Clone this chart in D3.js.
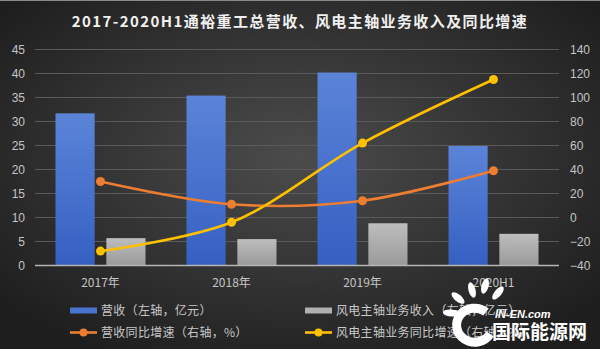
<!DOCTYPE html>
<html>
<head>
<meta charset="utf-8">
<script src="https://cdn.jsdelivr.net/npm/d3@7"></script>
<style>
  body { margin: 0; background: #333; }
  svg text { font-family: "Noto Sans CJK SC", "Noto Sans", sans-serif; }
</style>
</head>
<body>
<div id="chart"></div>
<script>
// Data
var years = ["2017年", "2018年", "2019年", "2020H1"];
var revenue = [31.7, 35.4, 40.2, 24.9];          // 营收, 左轴 亿元
var windRevenue = [5.7, 5.5, 8.8, 6.6];           // 风电主轴业务收入, 左轴 亿元
var revenueGrowth = [30, 11, 14, 39];             // 营收同比增速, 右轴 %
var windGrowth = [-28, -4, 62, 115];              // 风电主轴业务同比增速, 右轴 %
var leftTicks = [0, 5, 10, 15, 20, 25, 30, 35, 40, 45];
var rightTicks = [-40, -20, 0, 20, 40, 60, 80, 100, 120, 140];

var W = 600, H = 349;
var margin = {top: 49.5, right: 41, bottom: 83.5, left: 35};
var width = W - margin.left - margin.right;
var height = H - margin.top - margin.bottom;

var svg = d3.select("#chart").append("svg")
    .attr("width", W)
    .attr("height", H);

// Background
var defs = svg.append("defs");
var bg = defs.append("radialGradient").attr("id", "bg")
    .attr("cx", "50%").attr("cy", "45%").attr("r", "65%");
bg.append("stop").attr("offset", "0%").attr("stop-color", "#4c4c4c");
bg.append("stop").attr("offset", "100%").attr("stop-color", "#1e1e1e");

var blueGrad = defs.append("linearGradient").attr("id", "blueGrad")
    .attr("x1", 0).attr("y1", 0).attr("x2", 0).attr("y2", 1);
blueGrad.append("stop").attr("offset", "0%").attr("stop-color", "#5b84d8");
blueGrad.append("stop").attr("offset", "100%").attr("stop-color", "#3560c2");

var greyGrad = defs.append("linearGradient").attr("id", "greyGrad")
    .attr("x1", 0).attr("y1", 0).attr("x2", 0).attr("y2", 1);
greyGrad.append("stop").attr("offset", "0%").attr("stop-color", "#bdbdbd");
greyGrad.append("stop").attr("offset", "100%").attr("stop-color", "#9a9a9a");

svg.append("rect").attr("width", W).attr("height", H).attr("fill", "url(#bg)");
svg.append("line").attr("x1", 0).attr("x2", W).attr("y1", 0.5).attr("y2", 0.5)
    .attr("stroke", "#8a8a8a").attr("stroke-width", 1);

// Title
svg.append("text")
    .attr("x", W / 2)
    .attr("y", 27)
    .attr("text-anchor", "middle")
    .attr("fill", "#f0f0f0")
    .attr("font-size", 15)
    .attr("font-weight", "bold")
    .attr("letter-spacing", 1.4)
    .text("2017-2020H1通裕重工总营收、风电主轴业务收入及同比增速");

var g = svg.append("g")
    .attr("transform", "translate(" + margin.left + "," + margin.top + ")");

// Scales
var x = d3.scaleBand().domain(years).range([0, width]);
var xSub = d3.scaleBand().domain([0, 1]).range([0, 90]).paddingInner(0.23);
var yLeft = d3.scaleLinear().domain([0, 45]).range([height, 0]);
var yRight = d3.scaleLinear().domain([-40, 140]).range([height, 0]);

// Gridlines
g.append("g")
    .selectAll("line")
    .data(leftTicks.slice(1))
    .enter()
    .append("line")
    .attr("x1", 0).attr("x2", width)
    .attr("y1", function(d) { return yLeft(d); })
    .attr("y2", function(d) { return yLeft(d); })
    .attr("stroke", "#5a5a5a")
    .attr("stroke-width", 1);

// Bars
var groups = g.selectAll(".grp")
    .data(years)
    .enter()
    .append("g")
    .attr("transform", function(d) {
        return "translate(" + (x(d) + (x.bandwidth() - 90) / 2) + ",0)";
    });

groups.append("rect")
    .attr("x", xSub(0))
    .attr("width", xSub.bandwidth())
    .attr("y", function(d, i) { return yLeft(revenue[i]); })
    .attr("height", function(d, i) { return height - yLeft(revenue[i]); })
    .attr("fill", "url(#blueGrad)");

groups.append("rect")
    .attr("x", xSub(1))
    .attr("width", xSub.bandwidth())
    .attr("y", function(d, i) { return yLeft(windRevenue[i]); })
    .attr("height", function(d, i) { return height - yLeft(windRevenue[i]); })
    .attr("fill", "url(#greyGrad)");

// Baseline
g.append("line")
    .attr("x1", 0).attr("x2", width)
    .attr("y1", height).attr("y2", height)
    .attr("stroke", "#b5b5b5")
    .attr("stroke-width", 1.5);

// Axes
var axisLeft = g.append("g")
    .attr("transform", "translate(-10,0)")
    .call(d3.axisLeft(yLeft).tickValues(leftTicks).tickSize(0).tickPadding(0));
var axisRight = g.append("g")
    .attr("transform", "translate(" + (width + 11) + ",0)")
    .call(d3.axisRight(yRight).tickValues(rightTicks).tickSize(0).tickPadding(0));
var axisBottom = g.append("g")
    .attr("transform", "translate(0," + height + ")")
    .call(d3.axisBottom(x).tickSize(0).tickPadding(13));

[axisLeft, axisRight, axisBottom].forEach(function(a) {
    a.select(".domain").remove();
    a.selectAll("text")
        .attr("fill", "#c4c4c4")
        .attr("font-size", 12)
        .style("font-family", "'Liberation Sans', Arial, sans-serif");
});
axisBottom.selectAll("text").style("font-family", "'Noto Sans CJK SC', sans-serif");

// Lines
var cx = function(d, i) { return x(years[i]) + x.bandwidth() / 2; };

function drawLine(values, color) {
    var line = d3.line()
        .x(cx)
        .y(function(d) { return yRight(d); })
        .curve(d3.curveCatmullRom.alpha(0.5));
    g.append("path")
        .datum(values)
        .attr("d", line)
        .attr("fill", "none")
        .attr("stroke", color)
        .attr("stroke-width", 2.6);
    g.append("g").selectAll("circle")
        .data(values)
        .enter()
        .append("circle")
        .attr("cx", cx)
        .attr("cy", function(d) { return yRight(d); })
        .attr("r", 4.5)
        .attr("fill", color);
}
drawLine(revenueGrowth, "#ed7d31");
drawLine(windGrowth, "#ffc000");

// Legend
var legendItems = [
    {label: "营收（左轴，亿元）", color: "#4a72cf", type: "bar", x: 70, y: 310.5},
    {label: "风电主轴业务收入（左轴，亿元）", color: "#b0b0b0", type: "bar", x: 305, y: 310.5},
    {label: "营收同比增速（右轴，%）", color: "#ed7d31", type: "line", x: 70, y: 332.5},
    {label: "风电主轴业务同比增速（右轴，%）", color: "#ffc000", type: "line", x: 305, y: 332.5}
];

var legend = svg.append("g");
legendItems.forEach(function(item) {
    var li = legend.append("g").attr("transform", "translate(" + item.x + "," + item.y + ")");
    if (item.type === "bar") {
        li.append("rect").attr("x", 0).attr("y", -3).attr("width", 27).attr("height", 6)
            .attr("fill", item.color);
    } else {
        li.append("line").attr("x1", 0).attr("x2", 27).attr("y1", 0).attr("y2", 0)
            .attr("stroke", item.color).attr("stroke-width", 2.6);
        li.append("circle").attr("cx", 13.5).attr("cy", 0).attr("r", 4).attr("fill", item.color);
    }
    li.append("text")
        .attr("x", 31)
        .attr("y", 0)
        .attr("dy", "0.35em")
        .attr("fill", "#c8c8c8")
        .attr("font-size", 12)
        .attr("letter-spacing", 0.3)
        .text(item.label);
});

// Watermark (bottom right)
var wm = svg.append("g");
wm.append("path")
    .attr("d", "M 486 312 A 18 17 0 1 0 490 334")
    .attr("fill", "none")
    .attr("stroke", "#ffffff")
    .attr("stroke-width", 9);
[[472, 290, -15], [485, 286, 15], [498, 293, 40], [458, 298, -50], [451, 313, -85]].forEach(function(p) {
    wm.append("ellipse")
        .attr("cx", p[0]).attr("cy", p[1]).attr("rx", 3.5).attr("ry", 8)
        .attr("transform", "rotate(" + p[2] + "," + p[0] + "," + p[1] + ")")
        .attr("fill", "#ffffff");
});
wm.append("text")
    .attr("x", 495).attr("y", 318)
    .attr("fill", "#ffffff")
    .attr("font-size", 11)
    .attr("font-weight", "bold")
    .attr("font-style", "italic")
    .style("font-family", "'Liberation Sans', Arial, sans-serif")
    .text("IN-EN.com");
wm.append("text")
    .attr("x", 492).attr("y", 339)
    .attr("fill", "#ffffff")
    .attr("font-size", 19)
    .attr("font-weight", "bold")
    .text("国际能源网");
</script>
</body>
</html>
